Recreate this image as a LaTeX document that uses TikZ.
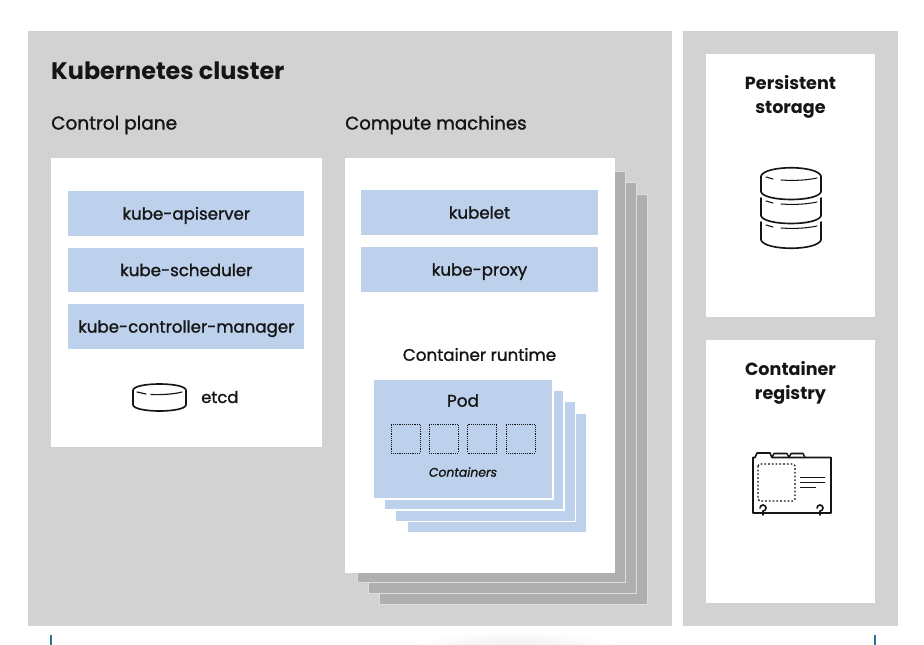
\documentclass[tikz,border=0pt]{standalone}
\usepackage{fontspec}
\setmainfont{Poppins}
\newfontfamily\medfont[FakeBold=1.3]{Poppins}
\usetikzlibrary{calc}
\definecolor{panelgray}{HTML}{D2D2D2}
\definecolor{stackgray}{HTML}{AFAFAF}
\definecolor{edgegray}{HTML}{DDDDDD}
\definecolor{paleblue}{HTML}{BDD1ED}
\definecolor{inkblack}{HTML}{151515}
\definecolor{tickblue}{HTML}{2F6F94}
\begin{document}
\begin{tikzpicture}[x=0.03cm,y=-0.03cm]
            \tikzstyle{panel}=[inner sep=0pt, outer sep=0pt, fill=panelgray]
            \tikzstyle{card}=[inner sep=0pt, outer sep=0pt, fill=white]
            \tikzstyle{sheet}=[inner sep=0pt, outer sep=0pt, fill=stackgray, draw=edgegray, line width=0.6pt, minimum width=8.02cm, minimum height=12.32cm]
            \tikzstyle{podsheet}=[inner sep=0pt, outer sep=0pt, fill=paleblue, draw=white, line width=1.2pt, minimum width=5.39cm, minimum height=3.59cm]
            \tikzstyle{bar}=[inner sep=0pt, outer sep=0pt, fill=paleblue, minimum width=7.09cm, minimum height=1.34cm, text=inkblack, text height=10.4pt, text depth=0pt, font=\medfont\fontsize{14.2}{16}\selectfont]
            \tikzstyle{slot}=[inner sep=0pt, outer sep=0pt, draw=inkblack, densely dotted, line width=0.6pt, minimum size=0.87cm]
            \tikzstyle{heading}=[inner sep=0pt, anchor=base west, text=inkblack]
            \tikzstyle{title}=[inner sep=0pt, align=center, text=inkblack, font=\bfseries\fontsize{15}{20.4}\selectfont]
            \tikzstyle{icon}=[draw=inkblack, line width=1.4pt, line join=round, line cap=round]
            \useasboundingbox (0,0) rectangle (924,645);
            % grey panels
            \node[panel, minimum width=19.32cm, minimum height=17.85cm] (cluster) at (350,328.5) {};
            \node[panel, minimum width=6.45cm, minimum height=17.85cm] (side) at (790.5,328.5) {};
            \node[heading, font=\bfseries\fontsize{20.4}{24}\selectfont] (clustertitle) at (51,79.5) {Kubernetes cluster};
            \node[heading, font=\medfont\fontsize{15.8}{18}\selectfont] (controltitle) at (51,129.5) {Control plane};
            \node[heading, font=\medfont\fontsize{15.5}{18}\selectfont] (computetitle) at (345,129.5) {Compute machines};
            % control plane
            \node[card, minimum width=8.13cm, minimum height=8.67cm] (control) at (186.5,302.5) {};
            \node[bar] (apiserver) at (186.3,213.5) {kube-apiserver};
            \node[bar] (scheduler) at (186.3,270) {kube-scheduler};
            \node[bar] (manager) at (186.3,326.5) {kube-controller-manager};
            \draw[icon] (133,390) .. controls (135,382) and (184,382) .. (186,390) -- (186,405) .. controls (184,413) and (135,413) .. (133,405) -- cycle;
            \draw[icon, line width=1pt] (137,392) -- (146,394) (151,394.5) .. controls (162,395) and (175,394) .. (182,392);
            \node[inner sep=0pt, anchor=base west, text=inkblack, font=\medfont\fontsize{14}{16}\selectfont] (etcd) at (201,403) {etcd};
            % compute machines
            \foreach \i/\cx/\cy in {3/513.5/399.5, 2/502.5/388, 1/491.5/377} {
                \node[sheet] (machine\i) at (\cx,\cy) {};
            }
            \node[card, minimum width=8.1cm, minimum height=12.45cm] (compute) at (480,365.5) {};
            \node[bar] (kubelet) at (479.5,212.5) {kubelet};
            \node[bar] (proxy) at (479.5,269.5) {kube-proxy};
            \node[inner sep=0pt, text=inkblack, font=\medfont\fontsize{14.3}{16}\selectfont] (runtime) at (479.5,354.5) {Container runtime};
            \foreach \i/\cx/\cy in {3/497/473, 2/485.5/461.5, 1/474/450} {
                \node[podsheet] (pod\i) at (\cx,\cy) {};
            }
            \node[podsheet] (pod) at (463,439) {};
            \node[inner sep=0pt, text=inkblack, font=\medfont\fontsize{14.4}{16}\selectfont] (podlabel) at (463,400.5) {Pod};
            \foreach \i/\cx in {1/405.5, 2/443.5, 3/482, 4/520.5} {
                \node[slot] (slot\i) at (\cx,438.5) {};
            }
            \node[inner sep=0pt, text=inkblack, font=\medfont\itshape\fontsize{10.6}{12}\selectfont] (containers) at (463,472) {Containers};
            % storage
            \node[card, minimum width=5.07cm, minimum height=7.89cm] (storage) at (790.5,185.5) {};
            \node[title] (storagetitle) at (790.5,97) {Persistent\\storage};
            \draw[icon] (761,176) .. controls (765,165) and (817,165) .. (821,176) -- (821,192) .. controls (817,202) and (765,202) .. (761,192) -- cycle;
            \draw[icon] (761,198) -- (761,216) .. controls (765,226) and (817,226) .. (821,216) -- (821,198);
            \draw[icon] (761,222) -- (761,240) .. controls (765,251) and (817,251) .. (821,240) -- (821,222);
            \foreach \dy in {0,24,48} {
                \draw[icon, line width=0.9pt] (766,177+\dy) -- (773,179+\dy) (781,180+\dy) .. controls (795,181+\dy) and (808,180+\dy) .. (817,178+\dy);
            }
            % registry
            \node[card, minimum width=5.07cm, minimum height=7.89cm] (registry) at (790.5,471.5) {};
            \node[title] (registrytitle) at (790.5,383) {Container\\registry};
            \draw[icon] (753,513) -- (753,457.5) -- (755,457.5) -- (757,453) -- (770,453) -- (772,457.5) -- (831,457.5) -- (831,513) -- cycle;
            \draw[icon, line width=1.3pt] (772,457.5) -- (774,453.5) -- (787,453.5) -- (789,457.5) -- (791,453.5) -- (803,453.5) -- (805,457.5);
            \draw[draw=inkblack, line width=1.1pt, dash pattern=on 1.6pt off 1.6pt, rounded corners=1.5pt] (758,464) rectangle (795,501);
            \draw[icon, line cap=butt, line width=1.6pt] (800,477.5) -- (825,477.5) (800,482.5) -- (825,482.5) (800,487.5) -- (816,487.5);
            \foreach \hx in {763,820} {
                \draw[icon, line width=1.4pt] (\hx-3,508) arc[start angle=180, end angle=450, radius=3] -- (\hx,515);
            }
            % frame ticks
            \coordinate (tickl) at (51,635);
            \coordinate (tickr) at (875,635);
            \draw[tickblue, line width=1pt] (tickl) -- (51,645) (tickr) -- (875,645);
            \begin{scope}
            \clip (400,628) rectangle (640,645);
            \shade[inner color=black!8, outer color=white, draw=none] (515,650) ellipse[x radius=108, y radius=19];
            \end{scope}
        \end{tikzpicture}
\end{document}
